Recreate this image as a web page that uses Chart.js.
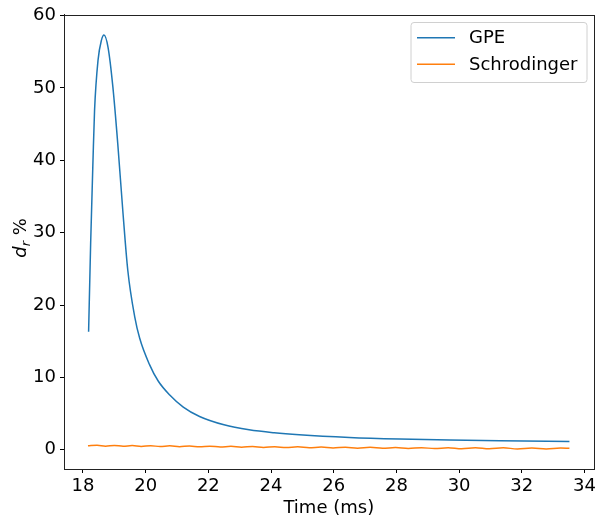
<!DOCTYPE html>
<html>
<head>
<meta charset="utf-8">
<script src="https://cdn.jsdelivr.net/npm/chart.js@4.4.1/dist/chart.umd.min.js"></script>
<style>
html,body{margin:0;padding:0;background:#fff;}
#wrap{width:599px;height:517px;}
</style>
</head>
<body>
<div id="wrap"><canvas id="c" width="599" height="517"></canvas></div>
<script>
// ---- data ----
const gpeTime = [18.18, 18.245, 18.32, 18.37, 18.48, 18.59, 18.67, 18.80, 18.955, 19.11, 19.27, 19.43, 19.65, 19.81, 20.12, 20.40, 20.76, 21.20, 21.72, 22.50, 23.30, 24.10, 24.90, 26.50, 28.10, 29.70, 31.30, 33.52];
const gpeValues = [16.3, 28.5, 40.0, 46.9, 53.8, 56.6, 57.3, 55.6, 50.1, 42.3, 33.1, 24.8, 18.4, 15.4, 11.8, 9.5, 7.6, 5.9, 4.6, 3.45, 2.76, 2.35, 2.07, 1.70, 1.48, 1.34, 1.24, 1.15];

const schTime = [18.16, 18.45, 18.72, 19.00, 19.28, 19.57, 19.86, 20.16, 20.46, 20.77, 21.08, 21.40, 21.72, 22.05, 22.38, 22.72, 23.06, 23.41, 23.76, 24.12, 24.48, 24.85, 25.22, 25.60, 25.98, 26.37, 26.76, 27.16, 27.56, 27.97, 28.38, 28.80, 29.22, 29.65, 30.08, 30.52, 30.96, 31.41, 31.86, 32.32, 32.78, 33.24, 33.52];
const schValues = [0.55, 0.62, 0.50, 0.60, 0.48, 0.58, 0.46, 0.56, 0.44, 0.54, 0.42, 0.52, 0.40, 0.50, 0.37, 0.47, 0.35, 0.45, 0.32, 0.42, 0.30, 0.40, 0.27, 0.37, 0.25, 0.35, 0.22, 0.33, 0.20, 0.31, 0.18, 0.29, 0.16, 0.28, 0.14, 0.27, 0.13, 0.26, 0.12, 0.25, 0.12, 0.24, 0.20];

const seriesLabels = ["GPE", "Schrodinger"];
const xTickValues = [18, 20, 22, 24, 26, 28, 30, 32, 34];
const yTickValues = [0, 10, 20, 30, 40, 50, 60];
const xTitle = "Time (ms)";

const FONT = "'DejaVu Sans', sans-serif";
const FS = 18;
const BLUE = "#1f77b4", ORANGE = "#ff7f0e";

const framePlugin = {
  id: 'frame',
  afterDraw(chart) {
    const ctx = chart.ctx, a = chart.chartArea;
    ctx.save();
    ctx.strokeStyle = '#222';
    ctx.lineWidth = 1;
    ctx.strokeRect(Math.round(a.left) + 0.5, Math.round(a.top) + 0.5, Math.round(a.right - a.left), Math.round(a.bottom - a.top));
    // x title
    ctx.fillStyle = '#000';
    ctx.font = FS + 'px ' + FONT;
    ctx.textAlign = 'center';
    ctx.textBaseline = 'middle';
    ctx.fillText(xTitle, (a.left + a.right) / 2, 508);
    // y title: italic d, subscript r, then %
    ctx.translate(20, 238);
    ctx.rotate(-Math.PI / 2);
    ctx.textBaseline = 'alphabetic';
    ctx.textAlign = 'left';
    const fI = 'italic ' + FS + 'px ' + FONT, fS = 'italic 13px ' + FONT, fN = FS + 'px ' + FONT;
    ctx.font = fI; const wD = ctx.measureText('d').width;
    ctx.font = fS; const wR = ctx.measureText('r').width;
    ctx.font = fN; const wP = ctx.measureText(' %').width;
    let x0 = -(wD + wR + wP) / 2;
    const base = 6;
    ctx.font = fI; ctx.fillText('d', x0, base); x0 += wD;
    ctx.font = fS; ctx.fillText('r', x0, base + 3.5); x0 += wR;
    ctx.font = fN; ctx.fillText(' %', x0, base);
    ctx.restore();

    // legend
    ctx.save();
    const lx = 410.5, ly = 22, lw = 176, lh = 60;
    ctx.beginPath();
    if (ctx.roundRect) ctx.roundRect(lx + 0.5, ly + 0.5, lw, lh, 3); else ctx.rect(lx + 0.5, ly + 0.5, lw, lh);
    ctx.fillStyle = 'rgba(255,255,255,0.8)';
    ctx.fill();
    ctx.strokeStyle = '#d0d0d0';
    ctx.lineWidth = 1;
    ctx.stroke();
    const cols = [BLUE, ORANGE];
    ctx.font = FS + 'px ' + FONT;
    ctx.textBaseline = 'middle';
    ctx.textAlign = 'left';
    seriesLabels.forEach((lab, i) => {
      const yy = 37.7 + i * 26.6;
      ctx.strokeStyle = cols[i];
      ctx.lineWidth = 1.5;
      ctx.beginPath();
      ctx.moveTo(417, yy); ctx.lineTo(455, yy);
      ctx.stroke();
      ctx.fillStyle = '#000';
      ctx.fillText(lab, 469, yy + 1);
    });
    ctx.restore();
  }
};

const ctx = document.getElementById('c').getContext('2d');
new Chart(ctx, {
  type: 'line',
  data: {
    datasets: [
      { label: seriesLabels[0], data: gpeTime.map((t, i) => ({x: t, y: gpeValues[i]})), borderColor: BLUE, borderWidth: 1.5, pointRadius: 0, fill: false, cubicInterpolationMode: 'monotone' },
      { label: seriesLabels[1], data: schTime.map((t, i) => ({x: t, y: schValues[i]})), borderColor: ORANGE, borderWidth: 1.5, pointRadius: 0, fill: false, cubicInterpolationMode: 'monotone' }
    ]
  },
  options: {
    responsive: false,
    animation: false,
    devicePixelRatio: 1,
    layout: { padding: { top: 14, right: 4, left: 0, bottom: 0 } },
    plugins: { legend: { display: false }, tooltip: { enabled: false } },
    scales: {
      x: {
        type: 'linear',
        min: 17.395, max: 34.29,
        afterBuildTicks: s => { s.ticks = xTickValues.map(v => ({value: v})); },
        afterFit: s => { s.height = 48; },
        grid: { display: true, drawOnChartArea: false, drawTicks: true, tickLength: 4, color: '#000', tickColor: '#000' },
        border: { display: true, color: '#222' },
        ticks: { color: '#000', font: { family: FONT, size: FS }, padding: 3, maxRotation: 0, autoSkip: false }
      },
      y: {
        type: 'linear',
        min: -2.66, max: 60.1,
        afterBuildTicks: s => { s.ticks = yTickValues.map(v => ({value: v})); },
        afterFit: s => { s.width = 64; },
        grid: { display: true, drawOnChartArea: false, drawTicks: true, tickLength: 4, color: '#000', tickColor: '#000' },
        border: { display: true, color: '#222' },
        ticks: { color: '#000', font: { family: FONT, size: FS }, padding: 4, autoSkip: false }
      }
    }
  },
  plugins: [framePlugin]
});
</script>
</body>
</html>
